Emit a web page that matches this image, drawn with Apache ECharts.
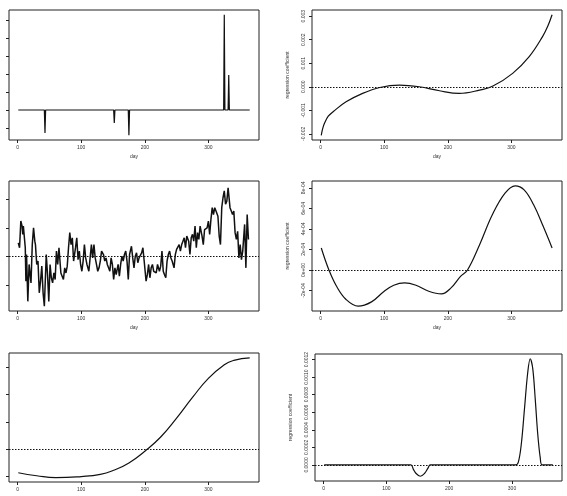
<!DOCTYPE html>
<html>
<head>
<meta charset="utf-8">
<script src="https://cdn.jsdelivr.net/npm/echarts@6.0.0/dist/echarts.min.js"></script>
<style>
html, body { margin: 0; padding: 0; background: #fff; }
#chart { width: 567px; height: 496px; }
</style>
</head>
<body>
<div id="chart"></div>
<script>
// x axis ticks shared by all panels
const xTicks = [0, 100, 200, 300]

// panel 1: spikes (left y labels are cut off in the source)
const spikeDays = [1, 42, 43, 44, 151, 152, 153, 174, 175, 176, 324, 325, 326, 331, 332, 333, 365]
const spikeValues = [0, 0, -1.28, 0, 0, -0.72, 0, 0, -1.4, 0, 0, 5.3, 0, 0, 1.95, 0, 0]
const spikeTicks = [-1, 0, 1, 2, 3, 4, 5]

// panel 2: regression coefficient
const coefADays = [1, 3, 6, 12, 20, 40, 66, 93, 124, 155, 187, 218, 250, 271, 302, 328, 349, 357, 364]
const coefAValues = [-0.00206, -0.0018, -0.00155, -0.00125, -0.00105, -0.00064, -0.00028, -0.00003, 0.00007, 0,
  -0.00017, -0.00028, -0.00014, 0.00003, 0.00057, 0.00128, 0.00213, 0.00256, 0.00306]
const coefATicks = [-0.002, -0.001, 0, 0.001, 0.002, 0.003]

// panel 3: noisy daily series
const noiseDays = [1, 3, 5, 7, 8, 9, 12, 13, 14, 16, 18, 19, 21, 23, 25, 27, 28, 30, 32, 34, 36, 38, 40, 42,
  45, 47, 49, 51, 53, 55, 57, 59, 61, 63, 65, 68, 70, 72, 74, 76, 78, 80, 82, 84, 86, 88, 91, 93, 95, 97,
  99, 101, 103, 105, 107, 109, 112, 114, 116, 118, 120, 122, 124, 126, 128, 130, 132, 135, 137, 139, 141, 143,
  145, 147, 149, 151, 153, 155, 158, 160, 162, 164, 166, 168, 170, 172, 174, 176, 179, 181, 183, 185, 187, 189,
  191, 193, 195, 197, 199, 202, 204, 206, 208, 210, 212, 214, 216, 218, 220, 223, 225, 227, 229, 231, 233, 235,
  237, 239, 241, 243, 246, 248, 250, 252, 254, 256, 258, 260, 262, 264, 266, 269, 271, 273, 275, 277, 279, 281,
  283, 285, 287, 290, 292, 294, 296, 298, 300, 302, 304, 306, 308, 310, 313, 315, 317, 319, 321, 323, 325, 327,
  329, 331, 334, 336, 338, 340, 342, 344, 346, 348, 350, 352, 354, 357, 359, 361, 363]
const noiseValues = [0.48, 0.31, 1.25, 1.07, 0.78, 1.07, 0.31, -0.87, 0.07, -1.58, -0.28, -0.22, -0.93, 0.42,
  1.01, 0.54, 0.42, -0.28, -0.16, -1.28, -0.87, -0.34, -1.28, -1.75, 0.07, -0.64, -1.58, -0.28, -0.75, -0.93,
  -0.58, -0.81, 0.19, -0.28, 0.31, -0.58, -0.52, -0.81, -0.40, -0.58, -0.34, 0.31, 0.84, 0.42, 0.66, -0.16,
  0.31, 0.66, -0.11, 0.19, -0.28, -0.52, -0.16, 0.42, -0.05, -0.28, -0.52, -0.05, 0.42, -0.05, 0.42, -0.05,
  -0.28, -0.52, -0.40, -0.16, 0.19, 0.07, -0.16, -0.05, -0.28, -0.40, -0.52, -0.05, -0.28, -0.81, -0.40, -0.64,
  -0.28, -0.69, -0.28, 0.01, -0.16, 0.07, 0.19, -0.16, -0.81, 0.07, 0.36, -0.05, -0.40, 0.01, 0.13, -0.22,
  -0.05, 0.01, 0.13, 0.31, -0.16, -0.87, -0.64, -0.28, -0.75, -0.40, -0.28, -0.52, -0.46, -0.58, -0.28, -0.52,
  -0.34, 0.19, -0.52, -0.64, -0.75, -0.16, 0.07, 0.19, -0.05, -0.16, -0.40, 0.07, 0.25, 0.31, 0.42, 0.19, 0.42,
  0.54, 0.66, 0.31, 0.72, 0.54, 0.07, 0.66, 0.78, 0.54, 1.07, 0.31, 0.84, 0.60, 1.07, 0.72, 0.42, 0.95, 0.89,
  1.01, 1.25, 0.78, 1.31, 1.72, 1.48, 1.72, 1.54, 1.42, 0.72, 0.42, 1.72, 2.07, 2.31, 1.84, 1.95, 2.42, 1.72,
  1.60, 1.48, 1.60, 0.84, 0.60, 0.89, -0.05, 0.42, -0.11, 0.19, 1.13, -0.40, 1.48, 0.60]
const noiseTicks = [-1, 0, 1, 2]

// panel 4
const coefBDays = [1, 13, 25, 40, 59, 80, 100, 115, 132, 150, 170, 190, 205, 220, 231, 250, 270, 290, 306, 320, 335, 350, 364]
const coefBValues = [2.14e-4, 0, -1.59e-4, -2.88e-4, -3.53e-4, -3.11e-4, -2.07e-4, -1.49e-4, -1.26e-4, -1.49e-4,
  -2.07e-4, -2.33e-4, -1.75e-4, -0.62e-4, 0, 2.46e-4, 5.38e-4, 7.49e-4, 8.2e-4, 7.81e-4, 6.35e-4, 4.25e-4, 2.14e-4]
const coefBTicks = [-2e-4, 0, 2e-4, 4e-4, 6e-4, 8e-4]

// panel 5
const curveDays = [1, 30, 60, 100, 130, 150, 175, 200, 225, 250, 275, 300, 325, 340, 365]
const curveValues = [-0.86, -0.97, -1.04, -1.0, -0.92, -0.78, -0.5, -0.07, 0.45, 1.14, 1.9, 2.6, 3.1, 3.26, 3.35]
const curveTicks = [-1, 0, 1, 2, 3]

// panel 6
const coefCDays = [1, 139, 143, 147, 154, 161, 166, 170, 305, 310, 315, 320, 325, 329, 333, 337, 341, 345, 348, 365]
const coefCValues = [0, 0, -0.5e-4, -0.95e-4, -1.29e-4, -0.95e-4, -0.4e-4, 0, 0, 0.3e-4, 2.5e-4, 6.5e-4,
  10.5e-4, 12.1e-4, 11e-4, 7.5e-4, 3.5e-4, 0.8e-4, 0, 0]
const coefCTicks = [0, 0.0002, 0.0004, 0.0006, 0.0008, 0.001, 0.0012]

const zip = (a, b) => a.map((d, i) => [d, b[i]])

const expFmt = function (v) {
  if (v === 0) return '0e+00'
  const s = v.toExponential(0).split('e')
  const e = parseInt(s[1], 10)
  const sign = e < 0 ? '-' : '+'
  return s[0] + 'e' + sign + String(Math.abs(e)).padStart(2, '0')
}

const FONT = 'Liberation Sans'

// bottom row: the "day" title falls below the page edge in the source
const panels = [
  { box: [9, 10, 250, 130], data: zip(spikeDays, spikeValues), y: [-1.67, 5.57], ticks: spikeTicks, smooth: false, zero: false, day: true },
  { box: [312, 10, 250, 130], data: zip(coefADays, coefAValues), y: [-0.00226, 0.00326], ticks: coefATicks, fmt: v => v.toFixed(3), smooth: 0.4, zero: true, day: true },
  { box: [9, 181, 250, 130], data: zip(noiseDays, noiseValues), y: [-1.92, 2.66], ticks: noiseTicks, smooth: false, zero: true, width: 1.5, day: true },
  { box: [312, 181, 250, 130], data: zip(coefBDays, coefBValues), y: [-4.0e-4, 8.67e-4], ticks: coefBTicks, fmt: expFmt, smooth: 0.4, zero: true, day: true },
  { box: [9, 353, 250, 129], data: zip(curveDays, curveValues), y: [-1.2, 3.53], ticks: curveTicks, smooth: 0.5, zero: true, day: false },
  { box: [315, 354, 247, 127], data: zip(coefCDays, coefCValues), y: [-0.000183, 0.001264], ticks: coefCTicks, fmt: v => v.toFixed(4), smooth: 0.35, zero: true, day: false }
]

const grid = []
const xAxis = []
const yAxis = []
const series = []

panels.forEach((p, i) => {
  grid.push({
    left: p.box[0], top: p.box[1], width: p.box[2], height: p.box[3],
    show: true, borderColor: '#222', borderWidth: 1, backgroundColor: 'transparent'
  })
  xAxis.push({
    type: 'value', gridIndex: i, min: -13.6, max: 379.6, position: 'bottom',
    axisLine: { show: false, onZero: false },
    splitLine: { show: false },
    axisTick: { show: true, inside: false, length: 3, customValues: xTicks, lineStyle: { color: '#222' } },
    axisLabel: { customValues: xTicks, fontSize: 5, margin: 5, color: '#333', fontFamily: FONT },
    name: p.day ? 'day' : '', nameLocation: 'middle', nameGap: 14,
    nameTextStyle: { fontSize: 5, color: '#333', fontFamily: FONT }
  })
  yAxis.push({
    type: 'value', gridIndex: i, min: p.y[0], max: p.y[1], position: 'left',
    axisLine: { show: false, onZero: false },
    splitLine: { show: false },
    axisTick: { show: true, inside: false, length: 3, customValues: p.ticks, lineStyle: { color: '#222' } },
    axisLabel: {
      show: !!p.fmt, customValues: p.ticks, formatter: p.fmt, rotate: 90,
      fontSize: 5, margin: 6, color: '#333', fontFamily: FONT
    },
    name: p.fmt ? 'regression coefficient' : '', nameLocation: 'middle', nameRotate: 90, nameGap: 22,
    nameTextStyle: { fontSize: 5, color: '#333', fontFamily: FONT }
  })
  const s = {
    type: 'line', xAxisIndex: i, yAxisIndex: i, data: p.data,
    showSymbol: false, symbol: 'none', smooth: p.smooth,
    lineStyle: { color: '#111', width: p.width || 1.2 },
    animation: false
  }
  if (p.zero) {
    s.markLine = {
      silent: true, symbol: 'none', label: { show: false },
      lineStyle: { color: '#111', type: [1.5, 1.5], width: 1 },
      data: [{ yAxis: 0 }],
      animation: false
    }
  }
  series.push(s)
})

const chart = echarts.init(document.getElementById('chart'), null, { renderer: 'canvas' })
chart.setOption({
  animation: false,
  backgroundColor: '#fff',
  grid, xAxis, yAxis, series
})
</script>
</body>
</html>
